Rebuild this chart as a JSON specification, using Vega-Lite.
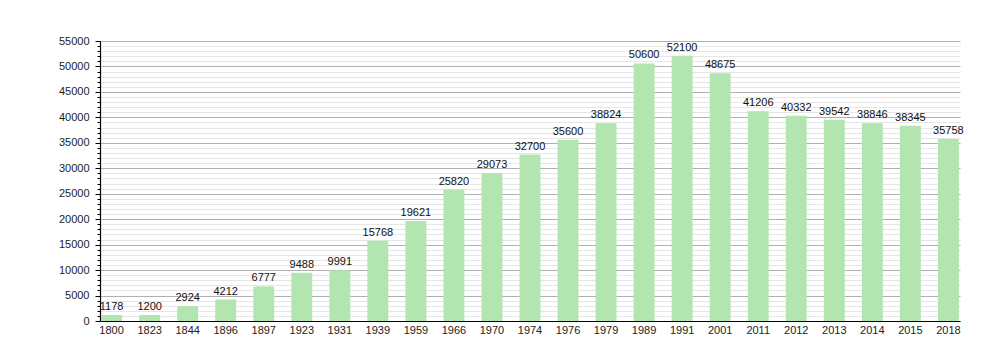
{
  "$schema": "https://vega.github.io/schema/vega-lite/v6.json",
  "width": 860,
  "height": 280,
  "autosize": {"type": "none"},
  "padding": {"left": 100, "top": 41, "right": 40, "bottom": 39},
  "background": "white",
  "config": {
    "view": {"stroke": null},
    "font": "Liberation Sans"
  },
  "data": {
    "values": [
      {"year": "1800", "pop": 1178},
      {"year": "1823", "pop": 1200},
      {"year": "1844", "pop": 2924},
      {"year": "1896", "pop": 4212},
      {"year": "1897", "pop": 6777},
      {"year": "1923", "pop": 9488},
      {"year": "1931", "pop": 9991},
      {"year": "1939", "pop": 15768},
      {"year": "1959", "pop": 19621},
      {"year": "1966", "pop": 25820},
      {"year": "1970", "pop": 29073},
      {"year": "1974", "pop": 32700},
      {"year": "1976", "pop": 35600},
      {"year": "1979", "pop": 38824},
      {"year": "1989", "pop": 50600},
      {"year": "1991", "pop": 52100},
      {"year": "2001", "pop": 48675},
      {"year": "2011", "pop": 41206},
      {"year": "2012", "pop": 40332},
      {"year": "2013", "pop": 39542},
      {"year": "2014", "pop": 38846},
      {"year": "2015", "pop": 38345},
      {"year": "2018", "pop": 35758}
    ]
  },
  "encoding": {
    "x": {
      "field": "year",
      "type": "nominal",
      "sort": null,
      "scale": {"paddingInner": 0.45, "paddingOuter": 0.03},
      "axis": {
        "title": null,
        "labelAngle": 0,
        "labelFontSize": 11,
        "labelColor": "#222",
        "labelPadding": 3,
        "ticks": false,
        "domainColor": "#000",
        "domainWidth": 1.2
      }
    },
    "y": {
      "field": "pop",
      "type": "quantitative",
      "scale": {"domain": [0, 55000], "nice": false},
      "axis": {
        "title": null,
        "values": [0,1000,2000,3000,4000,5000,6000,7000,8000,9000,10000,11000,12000,13000,14000,15000,16000,17000,18000,19000,20000,21000,22000,23000,24000,25000,26000,27000,28000,29000,30000,31000,32000,33000,34000,35000,36000,37000,38000,39000,40000,41000,42000,43000,44000,45000,46000,47000,48000,49000,50000,51000,52000,53000,54000,55000],
        "labelExpr": "datum.value % 5000 === 0 ? datum.value : ''",
        "labelFontSize": 11,
        "labelColor": "#222",
        "labelPadding": 6,
        "format": "d",
        "grid": true,
        "gridColor": {"expr": "datum.value % 5000 === 0 ? '#b0b0b0' : '#e6e6e6'"},
        "gridWidth": 1,
        "tickColor": "#000",
        "tickSize": {"expr": "datum.value % 5000 === 0 ? 5 : 3"},
        "domainColor": "#000",
        "domainWidth": 1.2
      }
    }
  },
  "layer": [
    {"mark": {"type": "bar", "color": "#b3e5b0"}},
    {
      "mark": {"type": "text", "baseline": "bottom", "dy": -3, "fontSize": 11, "color": "#111"},
      "encoding": {"text": {"field": "pop", "type": "quantitative", "format": "d"}}
    }
  ]
}
